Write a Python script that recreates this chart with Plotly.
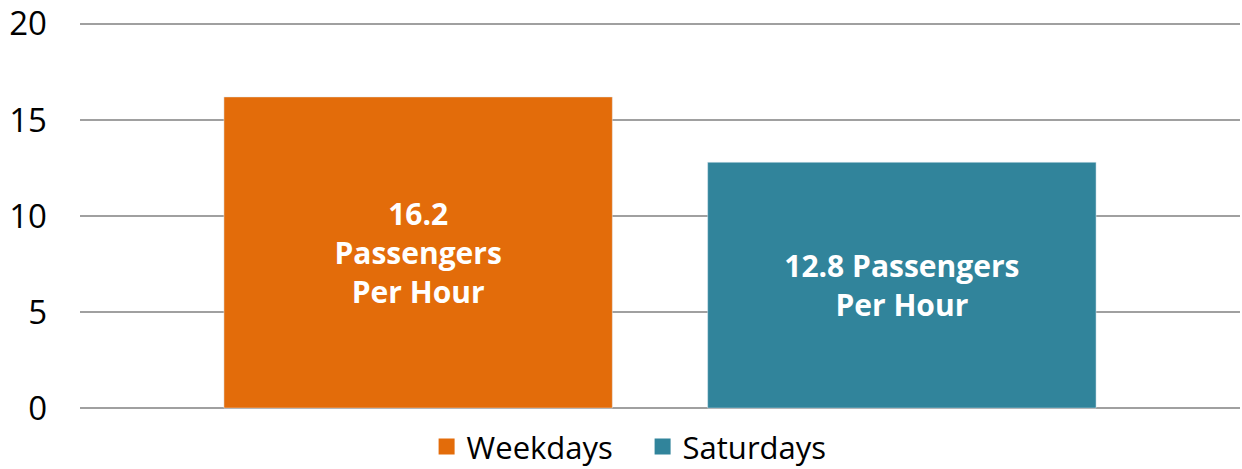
import plotly.graph_objects as go

categories = [""]
series_names = ["Weekdays", "Saturdays"]
weekdays = [16.2]
saturdays = [12.8]
labels_weekdays = ["16.2<br>Passengers<br>Per Hour"]
labels_saturdays = ["12.8 Passengers<br>Per Hour"]
colors = ["#E36C0A", "#31849B"]
y_ticks = [0, 5, 10, 15, 20]

fig = go.Figure()
for name, vals, labels, col in zip(series_names, [weekdays, saturdays],
                                   [labels_weekdays, labels_saturdays], colors):
    fig.add_trace(go.Bar(
        x=categories, y=vals, name=name, marker_color=col,
        text=labels, textposition="inside", insidetextanchor="middle",
        textangle=0,
        textfont=dict(family="Open Sans", size=30, color="white", weight="bold"),
        showlegend=False, hoverinfo="skip",
    ))
    fig.add_trace(go.Scatter(
        x=[None], y=[None], mode="markers", name=name,
        marker=dict(symbol="square", size=16, color=col),
    ))

fig.update_layout(
    width=1242, height=469,
    margin=dict(l=80, r=2, t=22, b=59, autoexpand=False),
    plot_bgcolor="white", paper_bgcolor="white",
    barmode="group", bargap=0.166, bargroupgap=0.197,
    font=dict(family="Open Sans", color="#000000"),
    legend=dict(orientation="h", x=0.485, xanchor="center", y=-0.095, yanchor="middle",
                font=dict(size=31, color="#000000"), itemwidth=30,
                entrywidth=171, entrywidthmode="pixels"),
    uniformtext=dict(mode=False),
)
fig.update_xaxes(showticklabels=False, showgrid=False, zeroline=False, showline=False,
                 automargin=False)
fig.update_yaxes(range=[-0.1, 20.1], tickvals=y_ticks, showgrid=True, gridcolor="#A0A0A0",
                 gridwidth=1.5, zeroline=False, showline=False, automargin=False,
                 tickfont=dict(size=33, color="#000000"), ticklabelstandoff=32)

fig.write_html("out.html", config={"displayModeBar": False},
               post_script="document.body.style.margin='0';")
